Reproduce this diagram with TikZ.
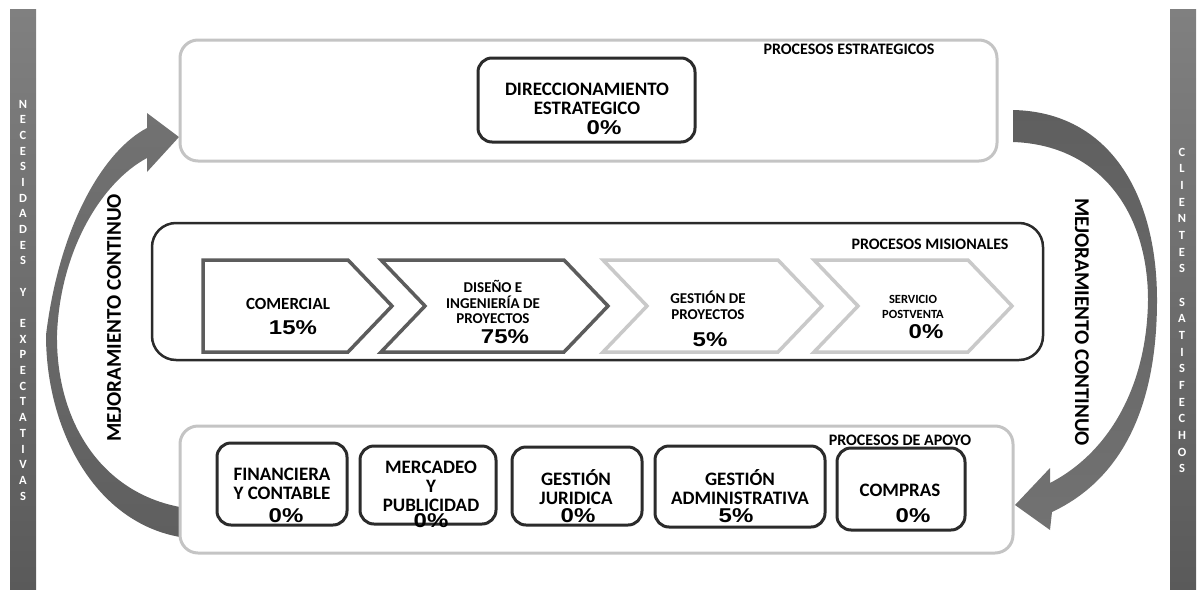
\documentclass[tikz,border=0pt]{standalone}
\usepackage{fontspec}
\setmainfont{Carlito}
\newfontfamily\pctfont[FakeStretch=1.2]{Liberation Sans}
\usetikzlibrary{positioning}

\definecolor{grisclaro}{HTML}{C4C4C4}
\definecolor{grisoscuro}{HTML}{2B2B2B}
\definecolor{grismedio}{HTML}{5C5C5C}
\definecolor{grischevron}{HTML}{C9C9C9}
\definecolor{flechaA}{HTML}{727272}
\definecolor{flechaB}{HTML}{5F5F5F}
\definecolor{barraA}{HTML}{808080}
\definecolor{barraB}{HTML}{5A5A5A}

\tikzset{
	proceso claro/.style={draw=grisclaro, fill=white, line width=3pt, rounded corners=18pt},
	proceso oscuro/.style={draw=grisoscuro, fill=white, line width=2.5pt, rounded corners=24pt},
	caja/.style={draw=grisoscuro, fill=white, line width=3pt, rounded corners=14pt},
	titulo/.style={font=\bfseries\fontsize{16}{16}\selectfont, inner sep=0pt},
	etiqueta/.style={font=\bfseries\fontsize{19}{19}\selectfont, align=center, inner sep=0pt},
	porcentaje/.style={font=\pctfont\bfseries\fontsize{20}{20}\selectfont, inner sep=0pt},
	letra/.style={text=white, font=\bfseries\fontsize{12.5}{12.5}\selectfont, inner sep=0pt},
	mejora/.style={font=\bfseries\fontsize{21}{21}\selectfont, inner sep=0pt},
}

\begin{document}
\begin{tikzpicture}[x=1pt, y=-1pt]
	\useasboundingbox (0,0) rectangle (1198,589);

	% barras laterales
	\shade[top color=barraA, bottom color=barraB] (10,9) rectangle (36,589);
	\shade[top color=barraA, bottom color=barraB] (1170,9) rectangle (1196,589);
	\foreach \l [count=\i from 0] in {N,E,C,E,S,I,D,A,D,E,S,{},Y,{},E,X,P,E,C,T,A,T,I,V,A,S}
		\node[letra] (nec-\i) at (23,{104+15.68*\i}) {\l};
	\foreach \l [count=\i from 0] in {C,L,I,E,N,T,E,S,{},S,A,T,I,S,F,E,C,H,O,S}
		\node[letra] (cli-\i) at (1182,{152+16.67*\i}) {\l};

	% flechas de mejoramiento
	\shade[top color=flechaA, bottom color=flechaB]
	(180,537) .. controls (95,522) and (46,430) .. (46,335)
	.. controls (60,222) and (105,150) .. (147,128)
	-- (147,113) -- (179,137) -- (147,172) -- (147,158)
	.. controls (102,182) and (60,250) .. (57,335)
	.. controls (56,420) and (100,492) .. (180,507) -- cycle;
	\shade[top color=flechaB, bottom color=flechaA]
	(1013,110) .. controls (1110,112) and (1157,195) .. (1157,300)
	.. controls (1157,410) and (1120,480) .. (1052,512)
	-- (1050,530) -- (1015,505) -- (1050,468) -- (1050,483)
	.. controls (1110,452) and (1147,385) .. (1148,300)
	.. controls (1148,212) and (1100,145) .. (1013,142) -- cycle;
	\node[mejora, rotate=90] (mejora-izq) at (114,318) {MEJORAMIENTO CONTINUO};
	\node[mejora, rotate=-90] (mejora-der) at (1082,322) {MEJORAMIENTO CONTINUO};

	% procesos estrategicos
	\node[proceso claro, minimum width=817pt, minimum height=121pt] (estrategicos) at (588.5,100.5) {};
	\node[titulo] (estrategicos-tit) at (849,49) {PROCESOS ESTRATEGICOS};
	\node[caja, minimum width=217pt, minimum height=84pt] (direccion) at (586.5,100) {};
	\node[etiqueta] (direccion-txt) at (587,99) {DIRECCIONAMIENTO\\ESTRATEGICO};
	\node[porcentaje] (direccion-pct) at (604,128) {0\%};

	% procesos misionales
	\node[proceso oscuro, minimum width=891pt, minimum height=137pt] (misionales) at (597.5,291.5) {};
	\node[titulo] (misionales-tit) at (930,244) {PROCESOS MISIONALES};
	\draw[draw=grismedio, line width=3.5pt, line join=miter, fill=white]
	(203,260) -- (348,260) -- (392,306) -- (348,352) -- (203,352) -- cycle;
	\foreach \a/\b/\col in {381/608/grismedio, 603/822/grischevron, 814/1012/grischevron}
		\draw[draw=\col, line width=3.5pt, line join=miter, fill=white]
		(\a,260) -- ({\b-44},260) -- (\b,306) -- ({\b-44},352) -- (\a,352) -- ({\a+44},306) -- cycle;
	\node[etiqueta, font=\bfseries\fontsize{17}{17}\selectfont] (comercial-txt) at (288,304) {COMERCIAL};
	\node[porcentaje] (comercial-pct) at (293,328) {15\%};
	\node[etiqueta, font=\bfseries\fontsize{15}{15.5}\selectfont] (diseno-txt) at (493,302) {DISEÑO E\\INGENIERÍA DE\\PROYECTOS};
	\node[porcentaje] (diseno-pct) at (505,337) {75\%};
	\node[etiqueta, font=\bfseries\fontsize{15}{16}\selectfont] (gestion-txt) at (708,305) {GESTIÓN DE\\PROYECTOS};
	\node[porcentaje] (gestion-pct) at (710,340) {5\%};
	\node[etiqueta, font=\bfseries\fontsize{12.5}{15}\selectfont] (servicio-txt) at (913,307) {SERVICIO\\POSTVENTA};
	\node[porcentaje] (servicio-pct) at (926,332) {0\%};

	% procesos de apoyo
	\node[proceso claro, minimum width=833pt, minimum height=127pt] (apoyo) at (596.5,489.5) {};
	\node[titulo] (apoyo-tit) at (900,440) {PROCESOS DE APOYO};
	\node[caja, minimum width=130pt, minimum height=82pt] (financiera) at (282,484) {};
	\node[caja, minimum width=136pt, minimum height=78pt] (mercadeo) at (428,485) {};
	\node[caja, minimum width=130pt, minimum height=78pt] (juridica) at (577,486) {};
	\node[caja, minimum width=170pt, minimum height=81pt] (administrativa) at (740,486.5) {};
	\node[caja, minimum width=128pt, minimum height=82pt] (compras) at (901,489) {};
	\node[etiqueta] (financiera-txt) at (282,484) {FINANCIERA\\Y CONTABLE};
	\node[porcentaje] (financiera-pct) at (286,516) {0\%};
	\node[etiqueta] (mercadeo-txt) at (431,486) {MERCADEO\\Y\\PUBLICIDAD};
	\node[porcentaje] (mercadeo-pct) at (431,521) {0\%};
	\node[etiqueta] (juridica-txt) at (576,487) {GESTIÓN\\JURIDICA};
	\node[porcentaje] (juridica-pct) at (578,516) {0\%};
	\node[etiqueta] (administrativa-txt) at (740,487) {GESTIÓN\\ADMINISTRATIVA};
	\node[porcentaje] (administrativa-pct) at (736,516) {5\%};
	\node[etiqueta] (compras-txt) at (900,490) {COMPRAS};
	\node[porcentaje] (compras-pct) at (913,516) {0\%};
\end{tikzpicture}
\end{document}
